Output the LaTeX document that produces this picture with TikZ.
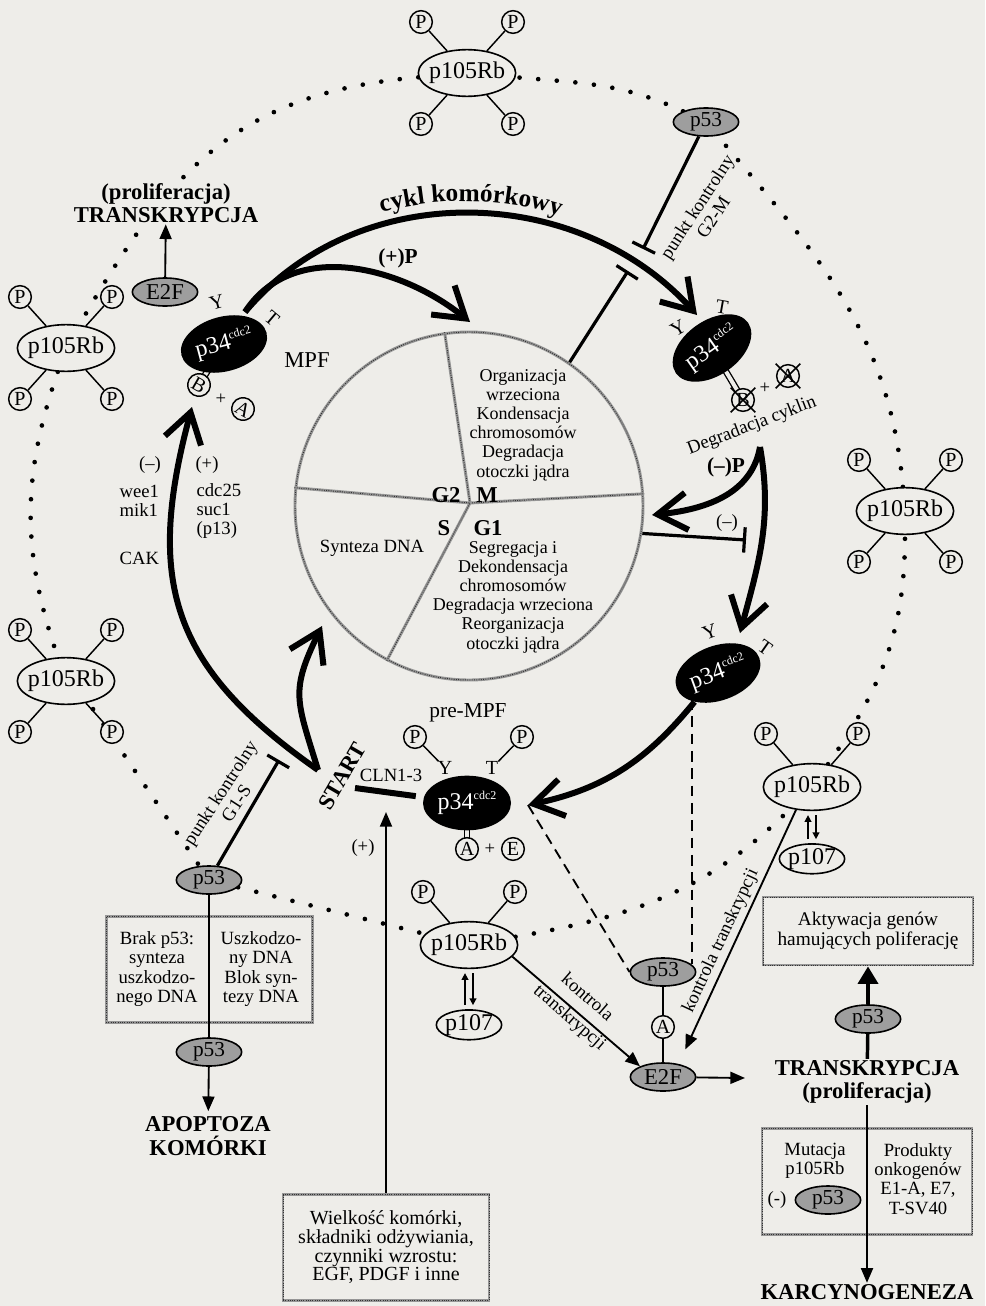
\documentclass[tikz,border=0pt]{standalone}
\usepackage{fontspec}
\setmainfont{Liberation Serif}
\usetikzlibrary{positioning,shapes.geometric,arrows.meta,calc,decorations.text}

\definecolor{paper}{RGB}{238,237,233}
\definecolor{stipgray}{RGB}{150,150,150}
\newcommand{\hdrfont}{\fontsize{17}{17.5}\selectfont\bfseries}
\newcommand{\arcfont}{\fontsize{19}{19}\selectfont\bfseries}
\newcommand{\pcdc}{p34\raisebox{0.9ex}{\fontsize{9}{9}\selectfont cdc2}}

\pgfdeclarelayer{paperlayer}
\pgfdeclarelayer{looplayer}
\pgfsetlayers{paperlayer,looplayer,main}

\tikzset{
  txt/.style={font=\fontsize{14}{14.4}\selectfont, align=center, inner sep=1pt},
  hdr/.style={font=\hdrfont, align=center, inner sep=1pt},
  rb/.style={ellipse, draw, line width=1.2pt, fill=paper, minimum width=73pt, minimum height=35pt,
    inner sep=0pt, inner xsep=-4pt, font=\fontsize{18}{18}\selectfont},
  rbsmall/.style={rb, minimum width=49pt, minimum height=21pt},
  ph/.style={circle, draw, line width=1.1pt, fill=paper, minimum size=17pt, inner sep=0pt,
    font=\fontsize{15}{15}\selectfont},
  grain/.style={ellipse, draw, line width=1.2pt, fill=black!38, minimum width=49pt, minimum height=21pt,
    inner sep=0pt, font=\fontsize{16}{16}\selectfont},
  cdk/.style={ellipse, fill=black, text=white, minimum width=66pt, minimum height=41pt, inner sep=0pt,
    font=\fontsize{18}{18}\selectfont},
  site/.style={inner sep=0pt, font=\fontsize{15}{15}\selectfont},
  stip/.style={draw=stipgray, line width=2.2pt,
    postaction={draw=black!80, line width=0.7pt, dash pattern=on 0.7pt off 1pt}},
  cycarr/.style={line width=4.5pt, -{Straight Barb[length=22pt,width=28pt]}},
  inh/.style={line width=2.4pt, -{Bar[width=19pt]}},
  tarr/.style={line width=1.4pt, -{Triangle[length=11pt,width=9pt]}},
  updn/.style={line width=1.1pt, -{Triangle[length=5pt,width=5pt]}, shorten <=3pt, shorten >=3pt},
  dsh/.style={line width=1.4pt, dash pattern=on 8pt off 5pt},
  dotloop/.style={line width=3.5pt, line cap=round, dash pattern=on 0pt off 14pt},
  stem/.style={line width=1pt, double=paper, double distance=3pt},
  stick/.style={line width=1.1pt},
}

\begin{document}
\begin{tikzpicture}[x=0.75pt,y=0.75pt]
\useasboundingbox (0,0) rectangle (985,-1306);
\begin{pgfonlayer}{paperlayer}
  \fill[paper] (0,0) rectangle (985,-1306);
\end{pgfonlayer}

% cell cycle wheel
\node[stip, circle, minimum size=261pt, inner sep=0pt] (cyc) at (469,-506) {};
\coordinate (hub) at (470,-503);
\draw[stip] (cyc.98) -- (hub) -- (cyc.4);
\draw[stip] (cyc.174) -- (hub) -- (cyc.242);
\node[txt, font=\fontsize{13.5}{14.4}\selectfont] (mTxt) at (523,-425) {Organizacja\\wrzeciona\\Kondensacja\\chromosomów\\Degradacja\\otoczki jądra};
\node[txt, font=\fontsize{13.5}{14.4}\selectfont] (g1Txt) at (513,-597) {Segregacja i\\Dekondensacja\\chromosomów\\Degradacja wrzeciona\\Reorganizacja\\otoczki jądra};
\node[txt] (sTxt) at (372,-548) {Synteza DNA};
\node[hdr] (phG2) at (446,-495) {G2};
\node[hdr] (phM) at (487,-495) {M};
\node[hdr] (phS) at (444,-528) {S};
\node[hdr] (phG1) at (488,-528) {G1};

% p105Rb and partners
\node[rb] (rbTop) at (467,-73) {p105Rb};
\node[rb] (rbL1) at (66,-348) {p105Rb};
\node[rb] (rbL2) at (66,-681) {p105Rb};
\node[rb] (rbRight) at (905,-511) {p105Rb};
\node[rb] (rbR2) at (812,-787) {p105Rb};
\node[rb] (rbBot) at (469,-945) {p105Rb};
\node[rbsmall, below=24pt of rbR2] (p107r) {p107};
\node[rbsmall, below=30pt of rbBot] (p107b) {p107};
\foreach \n in {rbTop,rbL1,rbL2,rbRight}
  \foreach \dx/\dy/\k in {-46/51/a,46/51/b,-46/-51/c,46/-51/d}{
    \node[ph] (\n\k) at ([shift={(\dx,\dy)}]\n) {P};
    \draw[stick] (\n\k) -- (\n);
  }
\foreach \n in {rbR2,rbBot}
  \foreach \dx/\dy/\k in {-46/53/a,46/53/b}{
    \node[ph] (\n\k) at ([shift={(\dx,\dy)}]\n) {P};
    \draw[stick] (\n\k) -- (\n);
  }
\draw[updn] ([xshift=-3pt]p107r.north) -- ([xshift=-3pt]rbR2.south);
\draw[updn] ([xshift=3pt]rbR2.south) -- ([xshift=3pt]p107r.north);
\draw[updn] ([xshift=-3pt]p107b.north) -- ([xshift=-3pt]rbBot.south);
\draw[updn] ([xshift=3pt]rbBot.south) -- ([xshift=3pt]p107b.north);

% p53 and E2F
\node[grain] (p53a) at (706,-122) {p53};
\node[grain] (p53b) at (209,-880) {p53};
\node[grain] (p53c) at (663,-972) {p53};
\node[grain] (p53d) at (868,-1019) {p53};
\node[grain] (p53f) at (209,-1052) {p53};
\node[grain, font=\fontsize{17}{17}\selectfont] (e2fA) at (165,-292) {E2F};
\node[grain, font=\fontsize{17}{17}\selectfont] (e2fB) at (663,-1077) {E2F};
\node[ph] (aE2f) at (663,-1027) {A};

% p34 kinases
\node[cdk, rotate=15] (mpf) at (224,-344) {\pcdc};
\node[cdk, rotate=35] (p34b) at (712,-348) {\pcdc};
\node[cdk, rotate=20] (p34c) at (718,-673) {\pcdc};
\node[cdk] (p34d) at (467,-803) {\pcdc};
\node[site, rotate=15] (yMpf) at (217,-302) {Y};
\node[site, rotate=-40] (tMpf) at (272,-318) {T};
\node[site, rotate=30] (yB) at (678,-328) {Y};
\node[site, rotate=-10] (tB) at (722,-307) {T};
\node[site, rotate=20] (yC) at (710,-632) {Y};
\node[site, rotate=-35] (tC) at (765,-648) {T};
\node[site] (yD) at (445,-768) {Y};
\node[site] (tD) at (492,-768) {T};
\node[txt, font=\fontsize{17}{17}\selectfont] (mpfLbl) at (307,-360) {MPF};
\node[txt, font=\fontsize{16}{16}\selectfont] (preLbl) at (468,-713) {pre-MPF};

\node[ph, rotate=-30] (bMpf) at (199,-385) {B};
\node[txt] (plusB) at (221,-399) {+};
\node[ph, rotate=-30] (aMpf) at (243,-409) {A};
\node[ph] (xB) at (743,-400) {B};
\node[txt] (plusX) at (765,-388) {+};
\node[ph] (xA) at (788,-376) {A};
\foreach \c in {xB,xA}{
  \draw[stick, shorten <=-4pt, shorten >=-4pt] (\c.north west) -- (\c.south east);
  \draw[stick, shorten <=-4pt, shorten >=-4pt] (\c.north east) -- (\c.south west);
}
\node[ph] (pY) at (415,-737) {P};
\node[ph] (pT) at (522,-737) {P};
\draw[stick] (pY) -- (yD);
\draw[stick] (pT) -- (tD);
\node[ph] (aPre) at (467,-849) {A};
\node[txt] (plusE) at (490,-849) {+};
\node[ph] (ePre) at (513,-849) {E};

% labels
\node[txt] (minusL) at (150,-465) {(–)};
\node[txt] (plusL) at (207,-465) {(+)};
\node[txt, align=left, anchor=west] (weeLbl) at (118,-501) {wee1\\mik1};
\node[txt, align=left, anchor=west] (cdcLbl) at (195,-511) {cdc25\\suc1\\(p13)};
\node[txt, anchor=west] (cakLbl) at (118,-558) {CAK};
\node[hdr, font=\fontsize{16}{16}\selectfont\bfseries] (plusP) at (398,-258) {(+)P};
\node[hdr, font=\fontsize{16}{16}\selectfont\bfseries] (minusP) at (726,-467) {(–)P};
\node[txt] (minusR) at (727,-523) {(–)};
\node[txt, rotate=21] (degLbl) at (752,-426) {Degradacja cyklin};
\node[hdr, rotate=60] (startLbl) at (342,-776) {START};
\node[txt] (clnLbl) at (391,-775) {CLN1-3};
\node[txt] (plusS) at (363,-848) {(+)};
\node[txt, rotate=57] (g1sLbl) at (228,-798) {punkt kontrolny\\G1-S};
\node[txt, rotate=57] (g2mLbl) at (705,-212) {punkt kontrolny\\G2-M};
\node[txt, rotate=-41, font=\fontsize{14}{20}\selectfont] (ktL) at (578,-1008) {kontrola\\transkrypcji};
\node[txt, rotate=65] (ktR) at (721,-941) {kontrola transkrypcji};
\node[hdr, fill=paper] (transA) at (166,-203) {(proliferacja)\\TRANSKRYPCJA};
\node[hdr] (transB) at (867,-1082) {TRANSKRYPCJA\\(proliferacja)};
\node[hdr] (apo) at (208,-1136) {APOPTOZA\\KOMÓRKI};
\node[hdr] (karc) at (867,-1292) {KARCYNOGENEZA};

% boxes
\node[stip, minimum width=155pt, minimum height=79pt] (boxApo) at (209.5,-969.5) {};
\node[txt] (apoL) at (157,-969) {Brak p53:\\synteza\\uszkodzo-\\nego DNA};
\node[txt] (apoR) at (261,-969) {Uszkodzo-\\ny DNA\\Blok syn-\\tezy DNA};
\node[stip, txt, font=\fontsize{15}{14}\selectfont, minimum width=154.5pt, minimum height=79pt] (boxW) at (386,-1247.5)
  {Wielkość komórki,\\składniki odżywiania,\\czynniki wzrostu:\\EGF, PDGF i inne};
\node[stip, txt, font=\fontsize{14.5}{15}\selectfont, minimum width=157.5pt, minimum height=51pt] (boxAkt) at (868,-931)
  {Aktywacja genów\\hamujących poliferację};
\node[stip, minimum width=157.5pt, minimum height=80pt] (boxKarc) at (867,-1181.5) {};
\node[txt] (mutLbl) at (815,-1161) {Mutacja\\p105Rb};
\node[txt] (negLbl) at (777,-1200) {(-)};
\node[grain] (p53e) at (828,-1200) {p53};
\node[txt] (oncLbl) at (918,-1179) {Produkty\\onkogenów\\E1-A, E7,\\T-SV40};

% main cycle arrows
\coordinate (mpfOut) at (245,-312);
\coordinate (cycTip) at (697,-315);
\coordinate (plusTip) at (470,-322);
\draw[cycarr] (mpfOut) to[out=50,in=132] (cycTip);
\draw[cycarr] (mpfOut) to[out=57,in=141] (plusTip);
\path[decorate, decoration={text along path, text align=center, text={|\arcfont|cykl komórkowy}}]
  ([yshift=9pt]mpfOut) to[out=50,in=132] ([yshift=9pt]cycTip);
\coordinate (degSplit) at (760,-447);
\coordinate (negTip) at (652,-515);
\coordinate (downTip) at (740,-633);
\draw[cycarr] (degSplit) to[out=-100,in=6] (negTip);
\draw[cycarr] (degSplit) to[out=-80,in=75] (downTip);
\coordinate (preIn) at (528,-805);
\draw[cycarr] (p34c) to[out=-135,in=12] (preIn);
\coordinate (startJ) at (318,-770);
\coordinate (bTip) at (192,-407);
\coordinate (sTip) at (322,-626);
\draw[cycarr] (startJ) to[out=145,in=-105,looseness=1.2] (bTip);
\draw[cycarr] (startJ) to[out=107,in=-116,looseness=1.3] (sTip);
\coordinate (startR) at (355,-788);
\draw[line width=4.5pt, shorten >=6pt] (startR) -- (p34d);

% checkpoints
\coordinate (g2mBarA) at (643,-249);
\coordinate (g2mBarB) at (628,-271);
\draw[inh] (p53a) -- (g2mBarA);
\draw[inh] (cyc.55) -- (g2mBarB);
\coordinate (negBar) at (746,-540);
\draw[inh] (cyc.-9) -- (negBar);
\coordinate (g1sBar) at (279,-760);
\draw[inh] (p53b) -- (g1sBar);

% transcription control
\draw[tarr] (e2fA) -- (transA);
\coordinate (clnIn) at (386,-812);
\draw[tarr] (boxW) -- (clnIn);
\draw[tarr] (rbBot.-15) -- (e2fB.155);
\draw[tarr, shorten >=12pt] (rbR2.-125) -- (e2fB.40);
\coordinate (trIn) at (745,-1078);
\draw[tarr] (e2fB) -- (trIn);
\draw[tarr] (transB) -- (karc);
\draw[line width=2.6pt] (transB) -- (p53d);
\draw[line width=2.6pt, -{Triangle[length=13pt,width=15pt]}] (p53d) -- (boxAkt);
\draw[line width=1.4pt] (p53b) -- (p53f);
\draw[tarr, shorten >=3pt] (p53f) -- (apo);
\draw[stick] (p53c) -- (aE2f) -- (e2fB);
\draw[dsh] (p53c.15 |- p34c.south) -- (p53c.15);
\draw[dsh] (preIn) -- (p53c.west);

\begin{pgfonlayer}{looplayer}
\draw[dotloop] (rbTop) to[out=185,in=60,looseness=1.1] (rbL1)
  to[bend right=19] (rbL2) -- (p53b) -- (rbBot)
  to[out=10,in=-135] (rbR2) to[out=55,in=-90] (rbRight)
  to[out=95,in=-50] (p53a) to[out=155,in=-5] (rbTop);
\draw[stem] (mpf.center) -- (bMpf.center);
\draw[stem] (p34b.center) -- (xB.center);
\draw[stem] (p34d.center) -- (aPre.center);
\end{pgfonlayer}
\end{tikzpicture}
\end{document}
